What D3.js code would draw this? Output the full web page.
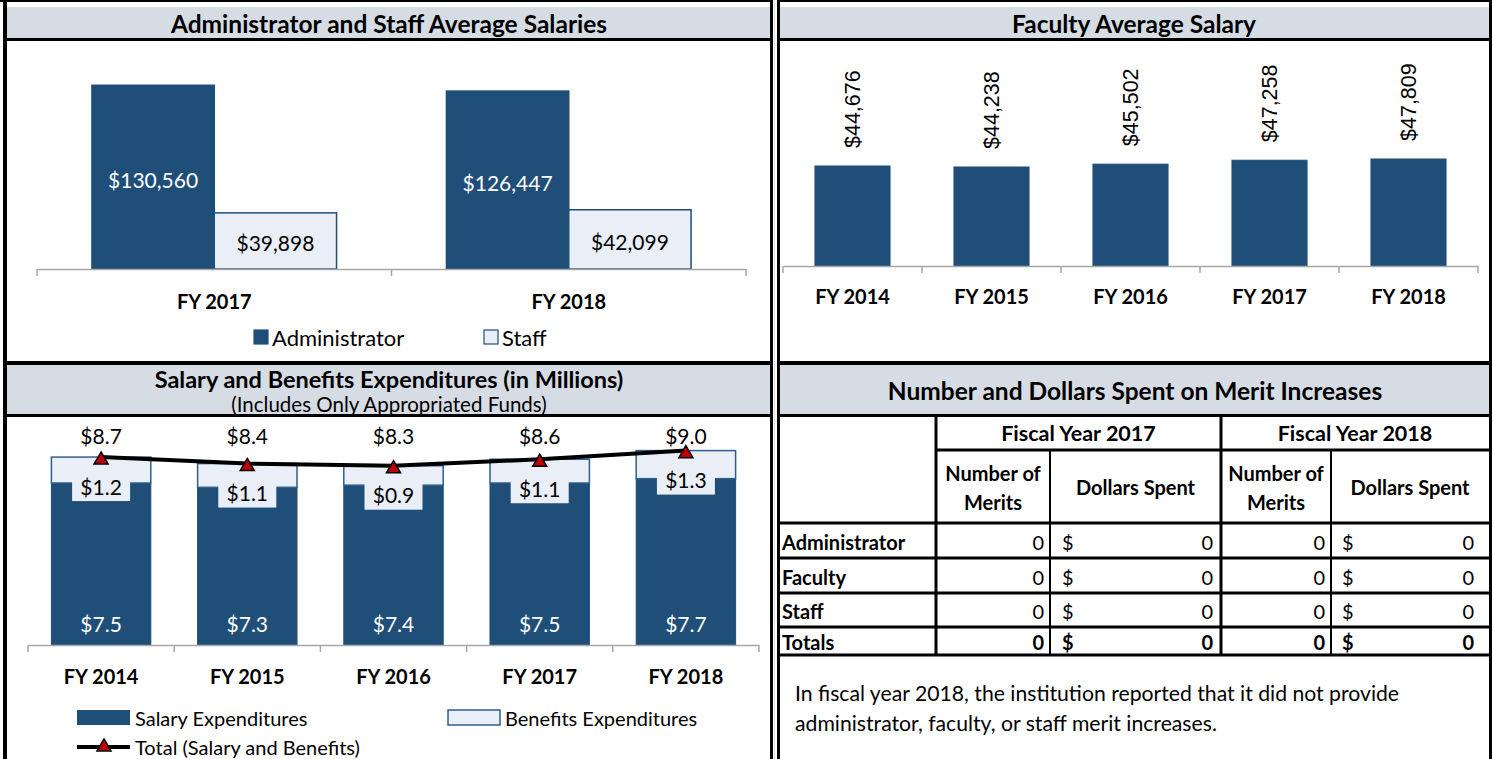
<!DOCTYPE html>
<html>
<head>
<meta charset="utf-8">
<script src="https://cdn.jsdelivr.net/npm/d3@7"></script>
<style>
body { margin: 0; background: #fff; }
svg text { font-family: Lato, 'Open Sans', sans-serif; fill: #000; }
</style>
</head>
<body>
<svg width="1492" height="759"></svg>
<script>
// ---- data ----
const adminYears = ['FY 2017', 'FY 2018'];
const adminSeries = ['Administrator', 'Staff'];
const adminSalary = [130560, 126447];
const staffSalary = [39898, 42099];

const facultyYears = ['FY 2014', 'FY 2015', 'FY 2016', 'FY 2017', 'FY 2018'];
const facultySalary = [44676, 44238, 45502, 47258, 47809];

const expYears = ['FY 2014', 'FY 2015', 'FY 2016', 'FY 2017', 'FY 2018'];
const salaryExp = [7.5, 7.3, 7.4, 7.5, 7.7];
const benefitsExp = [1.2, 1.1, 0.9, 1.1, 1.3];
const totalExp = [8.7, 8.4, 8.3, 8.6, 9.0];

const meritGroups = ['Administrator', 'Faculty', 'Staff', 'Totals'];
const merits2017 = [0, 0, 0, 0];
const dollars2017 = [0, 0, 0, 0];
const merits2018 = [0, 0, 0, 0];
const dollars2018 = [0, 0, 0, 0];

const meritNote = ['In fiscal year 2018, the institution reported that it did not provide',
                   'administrator, faculty, or staff merit increases.'];

const dark = '#1f4e79';
const light = '#e9eef7';
const axisGrey = '#a6a6a6';
const headGrey = '#d6dce4';

const svg = d3.select('svg');
const fmt = d3.format('$,');
const fmtM = d => '$' + d.toFixed(1);

// ---- frame ----
const frame = svg.append('g');
[[7, 770], [780, 1489]].forEach(([x0, x1]) => {
    frame.append('rect').attr('x', x0).attr('y', 7).attr('width', x1 - x0).attr('height', 31).attr('fill', headGrey);
    frame.append('rect').attr('x', x0).attr('y', 365).attr('width', x1 - x0).attr('height', 49).attr('fill', headGrey);
});
frame.append('rect').attr('x', 0).attr('y', 0).attr('width', 1492).attr('height', 2).attr('fill', '#000');
frame.append('rect').attr('x', 3).attr('y', 38).attr('width', 1489).attr('height', 3).attr('fill', '#000');
frame.append('rect').attr('x', 3).attr('y', 361).attr('width', 1489).attr('height', 4).attr('fill', '#000');
frame.append('rect').attr('x', 3).attr('y', 414).attr('width', 1489).attr('height', 3).attr('fill', '#000');
frame.append('rect').attr('x', 3).attr('y', 0).attr('width', 4).attr('height', 759).attr('fill', '#000');
frame.append('rect').attr('x', 1489).attr('y', 0).attr('width', 3).attr('height', 759).attr('fill', '#000');
frame.append('rect').attr('x', 773).attr('y', 0).attr('width', 4).attr('height', 759).attr('fill', '#fff');
frame.append('rect').attr('x', 774).attr('y', 0).attr('width', 1).attr('height', 759).attr('fill', '#d9d9d9');
frame.append('rect').attr('x', 770).attr('y', 0).attr('width', 3).attr('height', 759).attr('fill', '#000');
frame.append('rect').attr('x', 777).attr('y', 0).attr('width', 3).attr('height', 759).attr('fill', '#000');

const title = (x, y, txt, size, bold) => svg.append('text')
    .attr('x', x).attr('y', y).attr('text-anchor', 'middle').attr('dominant-baseline', 'central')
    .attr('font-size', size).attr('font-weight', bold ? 'bold' : 'normal').text(txt);

title(389, 23, 'Administrator and Staff Average Salaries', 24.5, true);
title(1134, 23, 'Faculty Average Salary', 24.5, true);
title(389, 379, 'Salary and Benefits Expenditures (in Millions)', 23.5, true);
title(389, 404, '(Includes Only Appropriated Funds)', 20.5, false);
title(1135, 390, 'Number and Dollars Spent on Merit Increases', 24.5, true);

// category axis with ticks between bands
const catAxis = (x, y0, pad) => {
    const g = svg.append('g').attr('transform', `translate(0,${y0})`)
        .call(d3.axisBottom(x).tickSize(0).tickSizeOuter(0).tickPadding(pad));
    g.select('.domain').attr('stroke', axisGrey).attr('stroke-width', 1.5);
    g.selectAll('text').attr('font-size', 20).attr('font-weight', 'bold')
        .attr('font-family', 'Lato, sans-serif').attr('fill', '#000');
    const half = (x.step() - x.bandwidth()) / 2;
    const edges = x.domain().map(d => x(d) - half).concat([x.range()[1]]);
    g.selectAll('.sep').data(edges).enter().append('line')
        .attr('x1', d => d).attr('x2', d => d).attr('y1', 0).attr('y2', 7)
        .attr('stroke', axisGrey).attr('stroke-width', 1.5);
    return g;
};

// ---- panel 1: admin & staff ----
{
    const x0 = d3.scaleBand().domain(adminYears).range([37, 746]).paddingInner(0.31).paddingOuter(0.155);
    const x1 = d3.scaleBand().domain(adminSeries).range([0, x0.bandwidth()]);
    const y = d3.scaleLinear().domain([0, 140000]).range([269, 72]);
    const rows = adminYears.map((yr, i) => ({ yr, vals: [
        { s: 'Administrator', v: adminSalary[i] }, { s: 'Staff', v: staffSalary[i] }] }));
    const grp = svg.append('g').selectAll('g').data(rows).enter().append('g')
        .attr('transform', d => `translate(${x0(d.yr)},0)`);
    grp.selectAll('rect').data(d => d.vals).enter().append('rect')
        .attr('x', d => x1(d.s)).attr('width', x1.bandwidth())
        .attr('y', d => y(d.v)).attr('height', d => y(0) - y(d.v))
        .attr('fill', d => d.s === 'Staff' ? light : dark)
        .attr('stroke', dark).attr('stroke-width', 1.5);
    grp.selectAll('text').data(d => d.vals).enter().append('text')
        .attr('x', d => x1(d.s) + x1.bandwidth() / 2)
        .attr('y', d => (y(d.v) + y(0)) / 2 + 2)
        .attr('text-anchor', 'middle').attr('dominant-baseline', 'central')
        .attr('font-size', 21).style('fill', d => d.s === 'Staff' ? '#000' : '#fff')
        .text(d => fmt(d.v));
    catAxis(x0, 269, 26);

    const leg = svg.append('g').selectAll('g').data(adminSeries).enter().append('g')
        .attr('transform', (d, i) => `translate(${[254, 484][i]},330)`);
    leg.append('rect').attr('width', 14).attr('height', 14)
        .attr('fill', d => d === 'Staff' ? light : dark).attr('stroke', dark).attr('stroke-width', 1.2);
    leg.append('text').attr('x', 18).attr('y', 7).attr('dominant-baseline', 'central')
        .attr('font-size', 22).text(d => d);
}

// ---- panel 2: faculty ----
{
    const x = d3.scaleBand().domain(facultyYears).range([783, 1478]).paddingInner(0.46).paddingOuter(0.23);
    const y = d3.scaleLinear().domain([0, 60000]).range([266, 131.7]);
    const data = facultyYears.map((yr, i) => ({ yr, v: facultySalary[i] }));
    svg.append('g').selectAll('rect').data(data).enter().append('rect')
        .attr('x', d => x(d.yr)).attr('width', x.bandwidth())
        .attr('y', d => y(d.v)).attr('height', d => y(0) - y(d.v))
        .attr('fill', dark).attr('stroke', dark).attr('stroke-width', 1);
    svg.append('g').selectAll('text').data(data).enter().append('text')
        .attr('transform', d => `translate(${x(d.yr) + x.bandwidth() / 2},${y(d.v) - 18}) rotate(-90)`)
        .attr('dominant-baseline', 'central').attr('font-size', 21.5)
        .style('font-family', "'Liberation Sans', Arial, sans-serif")
        .text(d => fmt(d.v));
    catAxis(x, 266, 24);
}

// ---- panel 3: expenditures ----
{
    const x = d3.scaleBand().domain(expYears).range([28, 759]).paddingInner(0.32).paddingOuter(0.16);
    const y = d3.scaleLinear().domain([0, 10]).range([645, 429]);
    const data = expYears.map((yr, i) => ({ yr, s: salaryExp[i], b: benefitsExp[i], t: totalExp[i] }));
    const cx = d => x(d.yr) + x.bandwidth() / 2;
    const g = svg.append('g');
    g.selectAll('.sal').data(data).enter().append('rect')
        .attr('x', d => x(d.yr)).attr('width', x.bandwidth())
        .attr('y', d => y(d.s)).attr('height', d => y(0) - y(d.s))
        .attr('fill', dark).attr('stroke', dark).attr('stroke-width', 1);
    g.selectAll('.ben').data(data).enter().append('rect')
        .attr('x', d => x(d.yr)).attr('width', x.bandwidth())
        .attr('y', d => y(d.s + d.b)).attr('height', d => y(d.s) - y(d.s + d.b))
        .attr('fill', light).attr('stroke', '#2e5f8f').attr('stroke-width', 1.5);
    // benefits labels with background box
    g.selectAll('.bbox').data(data).enter().append('rect')
        .attr('x', d => cx(d) - 29).attr('width', 58)
        .attr('y', d => y(d.s + d.b) + 14).attr('height', 30)
        .attr('fill', light);
    g.selectAll('.blab').data(data).enter().append('text')
        .attr('x', cx).attr('y', d => y(d.s + d.b) + 29)
        .attr('text-anchor', 'middle').attr('dominant-baseline', 'central')
        .attr('font-size', 21).text(d => fmtM(d.b));
    g.selectAll('.slab').data(data).enter().append('text')
        .attr('x', cx).attr('y', y(0) - 22)
        .attr('text-anchor', 'middle').attr('dominant-baseline', 'central')
        .attr('font-size', 21).style('fill', '#fff').text(d => fmtM(d.s));
    g.append('path').datum(data)
        .attr('d', d3.line().x(cx).y(d => y(d.t)))
        .attr('fill', 'none').attr('stroke', '#000').attr('stroke-width', 4);
    const tri = d3.symbol(d3.symbolTriangle).size(85);
    g.selectAll('.mk').data(data).enter().append('path')
        .attr('d', tri).attr('transform', d => `translate(${cx(d)},${y(d.t) + 3})`)
        .attr('fill', '#c00000').attr('stroke', '#000').attr('stroke-width', 1.5);
    g.selectAll('.tlab').data(data).enter().append('text')
        .attr('x', cx).attr('y', y(d3.max(totalExp)) - 15)
        .attr('text-anchor', 'middle').attr('dominant-baseline', 'central')
        .attr('font-size', 21).text(d => fmtM(d.t));
    catAxis(x, 645, 25);

    const leg = svg.append('g');
    leg.append('rect').attr('x', 77).attr('y', 710).attr('width', 53).attr('height', 15).attr('fill', dark);
    leg.append('text').attr('x', 135).attr('y', 718).attr('dominant-baseline', 'central').attr('font-size', 20).text('Salary Expenditures');
    leg.append('rect').attr('x', 448).attr('y', 710).attr('width', 52).attr('height', 15)
        .attr('fill', light).attr('stroke', '#2e5f8f').attr('stroke-width', 1.5);
    leg.append('text').attr('x', 505).attr('y', 718).attr('dominant-baseline', 'central').attr('font-size', 20).text('Benefits Expenditures');
    leg.append('line').attr('x1', 77).attr('x2', 130).attr('y1', 747).attr('y2', 747).attr('stroke', '#000').attr('stroke-width', 4);
    leg.append('path').attr('d', tri).attr('transform', 'translate(104,747)')
        .attr('fill', '#c00000').attr('stroke', '#000').attr('stroke-width', 1.5);
    leg.append('text').attr('x', 135).attr('y', 747).attr('dominant-baseline', 'central').attr('font-size', 20).text('Total (Salary and Benefits)');
}

// ---- panel 4: merit table ----
{
    const colX = [779, 936, 1050, 1221, 1331, 1489];
    const rowY = [417, 450, 523, 558, 593, 627, 655];
    const t = svg.append('g');
    const hline = (y, x0, x1, w) => t.append('line').attr('x1', x0).attr('x2', x1).attr('y1', y).attr('y2', y)
        .attr('stroke', '#000').attr('stroke-width', w);
    const vline = (x, y0, y1, w) => t.append('line').attr('x1', x).attr('x2', x).attr('y1', y0).attr('y2', y1)
        .attr('stroke', '#000').attr('stroke-width', w);
    hline(rowY[1], colX[1], colX[5], 3);
    rowY.slice(2).forEach(y => hline(y, colX[0], colX[5], 3));
    vline(colX[1], rowY[0], rowY[6], 3);
    vline(colX[3], rowY[0], rowY[6], 3);
    vline(colX[2], rowY[1], rowY[6], 2);
    vline(colX[4], rowY[1], rowY[6], 2);

    const txt = (x, y, s, anchor, bold, size) => t.append('text').attr('x', x).attr('y', y)
        .attr('text-anchor', anchor).attr('dominant-baseline', 'central')
        .attr('font-size', size || 20).attr('font-weight', bold ? 'bold' : 'normal').text(s);
    txt((colX[1] + colX[3]) / 2, 433, 'Fiscal Year 2017', 'middle', true, 21.5);
    txt((colX[3] + colX[5]) / 2, 433, 'Fiscal Year 2018', 'middle', true, 21.5);
    [[colX[1], colX[2]], [colX[3], colX[4]]].forEach(([a, b]) => {
        txt((a + b) / 2, 473, 'Number of', 'middle', true);
        txt((a + b) / 2, 502, 'Merits', 'middle', true);
    });
    txt((colX[2] + colX[3]) / 2, 487, 'Dollars Spent', 'middle', true);
    txt((colX[4] + colX[5]) / 2, 487, 'Dollars Spent', 'middle', true);

    meritGroups.forEach((name, i) => {
        const cy = (rowY[i + 2] + rowY[i + 3]) / 2 + 1;
        const bold = name === 'Totals';
        txt(782, cy, name, 'start', true);
        txt(1044, cy, d3.format(',')(merits2017[i]), 'end', bold);
        txt(1062, cy, '$', 'start', bold);
        txt(1213, cy, d3.format(',')(dollars2017[i]), 'end', bold);
        txt(1325, cy, d3.format(',')(merits2018[i]), 'end', bold);
        txt(1342, cy, '$', 'start', bold);
        txt(1474, cy, d3.format(',')(dollars2018[i]), 'end', bold);
    });

    meritNote.forEach((line, i) => txt(795, 693 + i * 30, line, 'start', false, 21.2));
}
</script>
</body>
</html>
